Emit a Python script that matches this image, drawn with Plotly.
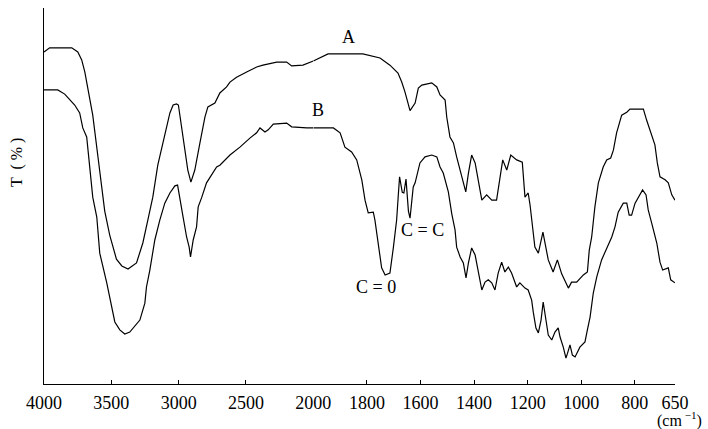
import plotly.graph_objects as go

# IR transmittance spectra (wavenumber in cm-1, transmittance in arbitrary %)
wn_a = [4000, 3958, 3883, 3794, 3749, 3720, 3697, 3675, 3638, 3601, 3571, 3549,
        3512, 3462, 3422, 3376, 3313, 3266, 3229, 3192, 3155, 3090, 3065, 3041,
        3016, 3002, 2969, 2932, 2909, 2880, 2842, 2805, 2783, 2731, 2694, 2644,
        2619, 2570, 2495, 2421, 2374, 2272, 2198, 2161, 2077, 2000, 1969, 1945,
        1882, 1815, 1751, 1714, 1684, 1670, 1658, 1649, 1639, 1620, 1608, 1595,
        1558, 1539, 1527, 1508, 1502, 1490, 1477, 1465, 1452, 1440, 1431, 1421,
        1409, 1396, 1384, 1371, 1353, 1334, 1316, 1303, 1293, 1278, 1263, 1241,
        1220, 1210, 1198, 1191, 1179, 1173, 1160, 1143, 1123, 1105, 1089, 1073,
        1048, 1036, 1017, 992, 977, 970, 961, 949, 936, 918, 905, 890, 880, 868,
        849, 830, 818, 768, 756, 737, 725, 716, 706, 687, 675, 662, 650]
t_a = [88.3, 89.4, 89.4, 89.4, 88.3, 86.2, 83.0, 78.7, 71.5, 60.9, 52.1, 46.0,
       39.6, 33.2, 31.4, 30.6, 32.2, 37.5, 43.6, 49.7, 58.2, 68.4, 72.1, 74.2,
       74.5, 74.2, 65.7, 56.9, 53.7, 56.9, 64.1, 71.0, 73.7, 74.7, 77.4, 79.0,
       80.3, 81.6, 83.0, 84.3, 84.8, 85.6, 85.6, 84.6, 84.8, 85.9, 87.0, 87.8,
       87.8, 87.8, 86.7, 84.8, 82.7, 80.3, 77.7, 75.5, 72.7, 74.7, 78.7, 79.5,
       80.1, 79.0, 76.9, 75.5, 71.0, 65.7, 64.1, 60.4, 56.9, 54.3, 51.1, 56.1,
       60.9, 58.8, 53.5, 48.9, 50.3, 48.9, 48.9, 54.3, 59.6, 56.9, 60.9, 59.6,
       59.0, 49.7, 50.8, 47.6, 40.2, 36.4, 34.8, 40.4, 33.0, 29.8, 33.0, 29.3,
       25.5, 27.1, 27.1, 29.0, 29.8, 35.6, 39.1, 47.1, 53.5, 57.7, 59.6, 60.1,
       62.2, 66.8, 71.5, 72.3, 73.1, 73.1, 70.2, 66.2, 63.6, 58.8, 55.1, 54.3,
       53.5, 50.3, 48.9]

wn_b = [4000, 3898, 3846, 3809, 3772, 3735, 3712, 3683, 3660, 3638, 3608, 3586,
        3534, 3497, 3474, 3437, 3400, 3363, 3288, 3251, 3239, 3214, 3177, 3140,
        3103, 3065, 3028, 3008, 2991, 2967, 2941, 2922, 2912, 2892, 2867, 2855,
        2830, 2793, 2718, 2694, 2619, 2545, 2471, 2421, 2396, 2359, 2335, 2297,
        2198, 2161, 2049, 2000, 1975, 1925, 1900, 1882, 1857, 1838, 1819, 1807,
        1795, 1788, 1776, 1770, 1757, 1745, 1732, 1714, 1701, 1689, 1683, 1678,
        1668, 1662, 1654, 1645, 1639, 1633, 1627, 1620, 1602, 1583, 1558, 1539,
        1527, 1515, 1496, 1483, 1471, 1465, 1452, 1440, 1430, 1421, 1409, 1396,
        1384, 1378, 1371, 1359, 1347, 1334, 1322, 1310, 1297, 1285, 1272, 1260,
        1241, 1229, 1210, 1198, 1185, 1179, 1169, 1160, 1150, 1142, 1132, 1123,
        1110, 1098, 1086, 1079, 1067, 1057, 1051, 1042, 1033, 1023, 1005, 986,
        977, 967, 955, 942, 924, 905, 886, 874, 862, 843, 830, 821, 812, 799,
        781, 771, 758, 750, 737, 718, 706, 696, 675, 666, 650]
t_b = [78.2, 78.2, 77.1, 75.5, 74.2, 72.1, 68.1, 65.7, 57.7, 49.7, 44.4, 34.8,
       26.9, 20.5, 16.5, 14.4, 13.3, 13.8, 17.0, 21.5, 25.8, 30.3, 38.3, 43.6,
       48.1, 50.8, 52.7, 52.9, 48.9, 44.4, 39.1, 36.4, 33.8, 38.3, 41.8, 47.1,
       49.5, 53.5, 57.7, 58.2, 60.9, 63.0, 65.4, 66.8, 68.1, 67.0, 67.6, 69.1,
       69.4, 68.4, 68.1, 68.1, 68.1, 68.1, 66.8, 63.0, 61.7, 59.6, 54.3, 48.9,
       45.5, 45.5, 45.7, 43.6, 36.4, 30.9, 29.0, 29.5, 36.4, 43.6, 50.0, 55.1,
       51.0, 50.8, 54.5, 46.0, 44.1, 48.1, 52.4, 53.5, 58.8, 60.4, 60.9, 60.4,
       57.7, 56.1, 51.1, 45.2, 41.0, 36.4, 33.8, 32.2, 28.2, 32.2, 36.2, 34.3,
       29.5, 26.9, 25.0, 27.1, 27.7, 26.9, 25.0, 29.5, 32.4, 29.8, 31.1, 29.5,
       25.8, 26.9, 25.5, 25.0, 22.3, 19.1, 14.9, 13.6, 17.0, 21.8, 17.0, 13.0,
       11.7, 13.8, 14.9, 12.5, 9.8, 6.9, 8.2, 10.4, 7.7, 7.2, 9.8, 11.2,
       14.4, 17.8, 24.2, 28.5, 33.0, 36.2, 39.1, 41.8, 45.7, 48.1, 48.1, 44.9, 44.9, 48.1,
       50.3, 51.6, 50.3, 46.3, 42.8, 37.5, 32.4, 30.3, 30.9, 27.7, 26.9]

# The wavenumber scale changes at 2000 cm-1, so each spectrum is split
# across two x axes with different scales.
BREAK = 2000
ticks_hi = [4000, 3500, 3000, 2500, 2000]
ticks_lo = [1800, 1600, 1400, 1200, 1000, 800, 650]

SERIF = "Liberation Serif, Times New Roman, serif"
LINE = dict(color="black", width=1.2)

fig = go.Figure()
for wn, t in ((wn_a, t_a), (wn_b, t_b)):
    hi = [(w, v) for w, v in zip(wn, t) if w >= BREAK]
    lo = [(w, v) for w, v in zip(wn, t) if w <= BREAK]
    fig.add_trace(go.Scatter(x=[p[0] for p in hi], y=[p[1] for p in hi],
                             mode="lines", line=LINE, xaxis="x", yaxis="y",
                             showlegend=False, hoverinfo="skip"))
    fig.add_trace(go.Scatter(x=[p[0] for p in lo], y=[p[1] for p in lo],
                             mode="lines", line=LINE, xaxis="x2", yaxis="y",
                             showlegend=False, hoverinfo="skip"))

split = 0.4268
axis_common = dict(showline=True, linecolor="black", linewidth=1.3,
                   ticks="inside", ticklen=4, tickcolor="black", tickwidth=1.3,
                   showgrid=False, zeroline=False, ticklabelstandoff=2,
                   tickfont=dict(family=SERIF, size=18, color="black"))

fig.update_layout(
    width=708, height=429,
    margin=dict(l=44, r=33, t=8, b=45),
    paper_bgcolor="white", plot_bgcolor="white",
    xaxis=dict(domain=[0, split], range=[4000, BREAK], tickvals=ticks_hi,
               anchor="y", **axis_common),
    xaxis2=dict(domain=[split, 1], range=[BREAK, 650], tickvals=ticks_lo,
                anchor="y", **axis_common),
    yaxis=dict(range=[0, 100], showline=True, linecolor="black", linewidth=1.3,
               ticks="", showticklabels=False, showgrid=False, zeroline=False),
)

labels = [("A", 1870, 92.3), ("B", 1982, 72.9),
          ("C = C", 1591, 41.0), ("C = 0", 1766, 25.8)]
for text, x, y in labels:
    fig.add_annotation(text=text, x=x, y=y, xref="x2", yref="y",
                       xanchor="center", yanchor="middle", showarrow=False,
                       font=dict(family=SERIF, size=18, color="black"))

fig.add_annotation(text="T  ( % )", x=-0.043, y=0.59, xref="paper", yref="paper",
                   xanchor="center", yanchor="middle",
                   textangle=-90, showarrow=False,
                   font=dict(family=SERIF, size=16, color="black"))
fig.add_annotation(text="(cm<sup> −1</sup>)", x=1.007, y=-0.095,
                   xref="paper", yref="paper", showarrow=False,
                   xanchor="center", yanchor="middle",
                   font=dict(family=SERIF, size=16, color="black"))

fig.write_html("out.html")
